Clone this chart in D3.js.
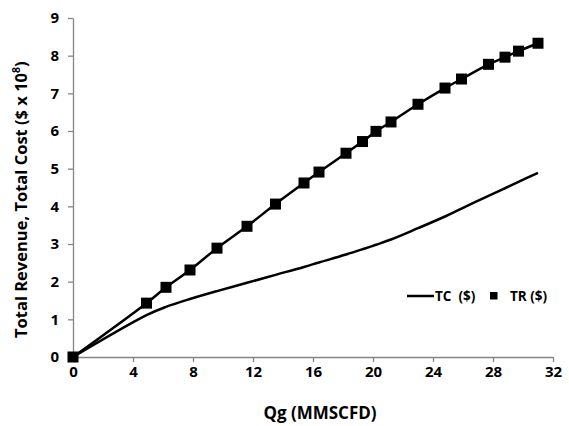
<!DOCTYPE html>
<html>
<head>
<meta charset="utf-8">
<script src="https://cdn.jsdelivr.net/npm/d3@7"></script>
<style>
  html, body { margin: 0; padding: 0; background: #fff; }
  svg { display: block; }
  text { font-family: "Open Sans", Lato, sans-serif; font-weight: bold; fill: #000; }
</style>
</head>
<body>
<svg id="chart" width="569" height="426"></svg>
<script>
// Gas rate (MMSCFD)
const qg = [0, 4.9, 6.2, 7.8, 9.6, 11.6, 13.5, 15.4, 16.4, 18.2, 19.3, 20.2, 21.2, 23.0, 24.8, 25.9, 27.7, 28.8, 29.7, 31.0];
// Total revenue ($ x 10^8)
const tr = [0, 1.43, 1.85, 2.31, 2.89, 3.47, 4.06, 4.62, 4.91, 5.41, 5.72, 5.99, 6.24, 6.71, 7.14, 7.38, 7.77, 7.96, 8.12, 8.33];
// Total cost ($ x 10^8)
const tc = [0, 1.11, 1.33, 1.54, 1.75, 1.97, 2.18, 2.39, 2.51, 2.72, 2.86, 2.98, 3.12, 3.42, 3.73, 3.94, 4.28, 4.48, 4.65, 4.89];

const xTicks = [0, 4, 8, 12, 16, 20, 24, 28, 32];
const yTicks = [0, 1, 2, 3, 4, 5, 6, 7, 8, 9];

const svg = d3.select("#chart");
const plotLeft = 73, plotRight = 553, plotTop = 18, plotBottom = 357;

const x = d3.scaleLinear().domain([0, 32]).range([plotLeft, plotRight]);
const y = d3.scaleLinear().domain([0, 9]).range([plotBottom, plotTop]);

const axisColor = "#868686";

// X axis
const gx = svg.append("g").attr("transform", `translate(0,${plotBottom})`)
  .call(d3.axisBottom(x).tickValues(xTicks).tickSize(5).tickPadding(4).tickSizeOuter(0));
// Y axis
const gy = svg.append("g").attr("transform", `translate(${plotLeft},0)`)
  .call(d3.axisLeft(y).tickValues(yTicks).tickSize(5).tickPadding(9).tickSizeOuter(0));

[gx, gy].forEach(g => {
  g.select(".domain").attr("stroke", axisColor).attr("stroke-width", 1.3);
  g.selectAll(".tick line").attr("stroke", axisColor).attr("stroke-width", 1.3);
  g.selectAll(".tick text").attr("font-size", 15).attr("fill", "#111")
    .attr("font-family", "'Open Sans', Lato, sans-serif").attr("font-weight", "bold");
});

// Total cost curve
const line = d3.line().x((d, i) => x(qg[i])).y(d => y(d)).curve(d3.curveCatmullRom.alpha(0.5));
svg.append("path").datum(tc).attr("d", line)
  .attr("fill", "none").attr("stroke", "#000").attr("stroke-width", 2.5);

// Total revenue line with square markers
svg.append("path").datum(tr).attr("d", line)
  .attr("fill", "none").attr("stroke", "#000").attr("stroke-width", 2.5);

const ms = 11;
svg.append("g").selectAll("rect").data(tr).join("rect")
  .attr("x", (d, i) => x(qg[i]) - ms / 2)
  .attr("y", d => y(d) - ms / 2)
  .attr("width", ms).attr("height", ms)
  .attr("fill", "#000");

// Axis titles
svg.append("text")
  .attr("transform", "translate(27,338) rotate(-90)")
  .attr("text-anchor", "start")
  .attr("font-size", 16.5)
  .html('Total Revenue, Total Cost ($ x 10<tspan dy="-7" font-size="10.5">8</tspan><tspan dy="7">)</tspan>');

svg.append("text")
  .attr("x", 320).attr("y", 419)
  .attr("text-anchor", "middle")
  .attr("font-size", 17)
  .text("Qg (MMSCFD)");

// Legend
const lg = svg.append("g");
lg.append("line").attr("x1", 407).attr("x2", 434).attr("y1", 296).attr("y2", 296)
  .attr("stroke", "#000").attr("stroke-width", 2.5);
lg.append("text").attr("x", 435).attr("y", 300.5).attr("font-size", 13.5).attr("xml:space", "preserve").text("TC  ($)");
lg.append("rect").attr("x", 490).attr("y", 292).attr("width", 7.5).attr("height", 7.5).attr("fill", "#000");
lg.append("text").attr("x", 510).attr("y", 300.5).attr("font-size", 13.5).text("TR ($)");
</script>
</body>
</html>
